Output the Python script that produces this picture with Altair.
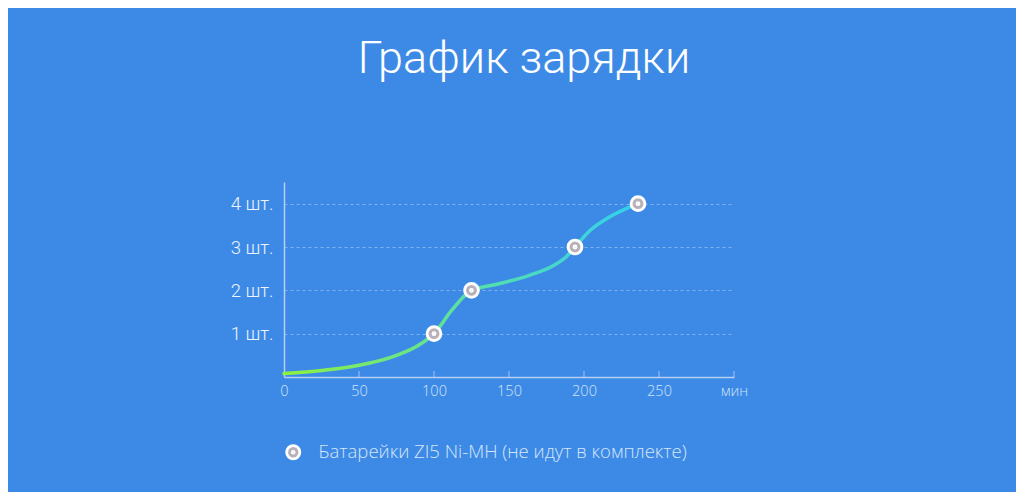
import altair as alt
import pandas as pd

# Curve (minutes -> batteries charged)
curve_min = [0, 25, 50, 75, 90, 100, 112, 125, 142, 164, 180, 188, 194, 204, 217, 236]
curve_val = [0.08, 0.15, 0.27, 0.5, 0.74, 1.0, 1.55, 2.0, 2.14, 2.35, 2.58, 2.77, 3.0, 3.38, 3.69, 4.0]

# Marked points
point_min = [100, 125, 194, 236]
point_val = [1, 2, 3, 4]

x_ticks = [0, 50, 100, 150, 200, 250, 300]
inner_ticks = [50, 100, 150, 200, 250, 300]
y_ticks = [1, 2, 3, 4]

title_text = "График зарядки"
series_name = "Батарейки ZI5 Ni-MH (не идут в комплекте)"
unit_x = "мин"
unit_y = " шт."

BG = "#3d8ae6"
AXIS = "#b3cff2"
GRID = "#7fb2f0"
RING = "#b9b1b9"

# ring-shaped marker: outer circle + tiny inner circle; white stroke paints outer band and centre
RING_PATH = ("M1,0A1,1,0,1,1,-1,0A1,1,0,1,1,1,0Z"
             "M0.14,0A0.14,0.14,0,1,1,-0.14,0A0.14,0.14,0,1,1,0.14,0Z")

curve_df = pd.DataFrame({"m": curve_min, "v": curve_val})
pts_df = pd.DataFrame({"m": point_min, "v": point_val, "s": [series_name] * len(point_min)})
tick_df = pd.DataFrame({"m": inner_ticks, "v": [0] * len(inner_ticks)})

xscale = alt.Scale(domain=[0, 300], nice=False, zero=False)
yscale = alt.Scale(domain=[0, 4.5], nice=False)

xaxis = alt.Axis(
    values=x_ticks, labelExpr=f"datum.value == 300 ? '{unit_x}' : datum.label",
    title=None, grid=False, ticks=False, domainColor=AXIS, domainWidth=1.5,
    labelColor="#d3e4f9", labelFontSize=14.5, labelFont="Open Sans", labelFontWeight=300,
    labelPadding=7, labelFlush=False,
)
yaxis = alt.Axis(
    values=y_ticks, labelExpr=f"datum.value + '{unit_y}'", title=None,
    grid=True, gridColor=GRID, gridDash=[3, 3], gridWidth=1, ticks=False,
    domainColor=AXIS, domainWidth=1.5, labelColor="#eef4fc", labelFontSize=18.5,
    labelFont="Roboto", labelFontWeight=300, labelPadding=11,
)

line = alt.Chart(curve_df).mark_line(
    interpolate="monotone", strokeWidth=3.5, strokeCap="round",
    color=alt.Gradient(
        gradient="linear", x1=0, x2=1, y1=0, y2=0,
        stops=[
            alt.GradientStop(offset=0, color="#8ff040"),
            alt.GradientStop(offset=0.45, color="#5fe29a"),
            alt.GradientStop(offset=1, color="#33cfee"),
        ],
    ),
).encode(
    x=alt.X("m:Q", scale=xscale, axis=xaxis),
    y=alt.Y("v:Q", scale=yscale, axis=yaxis),
)

ticks = alt.Chart(tick_df).mark_tick(
    orient="vertical", size=6, thickness=1.2, color=AXIS, yOffset=-3
).encode(x=alt.X("m:Q", scale=xscale), y=alt.Y("v:Q", scale=yscale))

points = alt.Chart(pts_df).mark_point(
    filled=True, shape=RING_PATH, size=190, opacity=1,
    stroke="#ffffff", strokeWidth=2.9,
).encode(
    x=alt.X("m:Q", scale=xscale),
    y=alt.Y("v:Q", scale=yscale),
    color=alt.Color(
        "s:N", scale=alt.Scale(range=[RING]),
        legend=alt.Legend(
            title=None, orient="none", legendX=0, legendY=261,
            symbolType=RING_PATH, symbolSize=174,
            symbolStrokeColor="#ffffff", symbolStrokeWidth=2.8, symbolOpacity=1,
            labelColor="#d6e6fa", labelFontSize=18.5, labelFont="Open Sans",
            labelFontWeight=300, labelOffset=16, labelLimit=600,
        ),
    ),
)

chart = alt.layer(line, ticks, points).properties(
    width=450, height=195,
    background=BG,
    padding={"left": 276, "top": 174, "right": 282, "bottom": 115},
    autosize=alt.AutoSizeParams(type="none"),
    title=alt.TitleParams(
        text=title_text, font="Roboto", fontSize=45, fontWeight=300,
        color="#ffffff", anchor="middle", dx=15, offset=64, baseline="alphabetic",
    ),
).configure_view(stroke=None)

chart.save("out.html", embed_options={"renderer": "svg", "actions": False})
